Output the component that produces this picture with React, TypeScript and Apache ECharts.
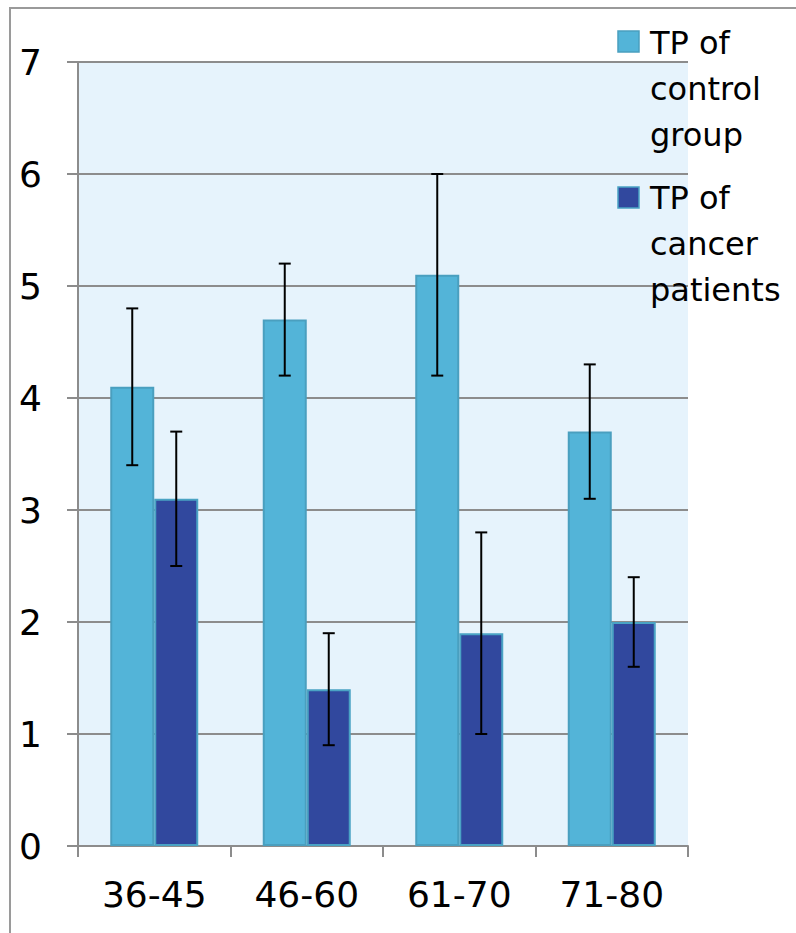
import React, { useEffect, useRef } from "react";
import * as echarts from "echarts";

const categories = ["36-45", "46-60", "61-70", "71-80"];
const controlValues = [4.1, 4.7, 5.1, 3.7];
const controlLow = [3.4, 4.2, 4.2, 3.1];
const controlHigh = [4.8, 5.2, 6.0, 4.3];
const cancerValues = [3.1, 1.4, 1.9, 2.0];
const cancerLow = [2.5, 0.9, 1.0, 1.6];
const cancerHigh = [3.7, 1.9, 2.8, 2.4];
const seriesNames = ["TP of\ncontrol\ngroup", "TP of\ncancer\npatients"];
const yTicks = { min: 0, max: 7, interval: 1 };

const FONT = "DejaVu Sans";
const CONTROL = "#53b4d8";
const CANCER = "#31489e";
const BAR_W = 44;

function errorSeries(low: number[], high: number[], offset: number) {
  return {
    type: "custom",
    silent: true,
    z: 10,
    data: categories.map((c, i) => [i, low[i], high[i]]),
    encode: { x: 0, y: [1, 2] },
    renderItem: (params: any, api: any) => {
      const lo = api.coord([api.value(0), api.value(1)]);
      const hi = api.coord([api.value(0), api.value(2)]);
      const x = lo[0] + offset;
      const cap = 6;
      const style = { stroke: "#000", lineWidth: 2 };
      return {
        type: "group",
        children: [
          { type: "line", shape: { x1: x, y1: lo[1], x2: x, y2: hi[1] }, style },
          { type: "line", shape: { x1: x - cap, y1: lo[1], x2: x + cap, y2: lo[1] }, style },
          { type: "line", shape: { x1: x - cap, y1: hi[1], x2: x + cap, y2: hi[1] }, style },
        ],
      };
    },
  };
}

export default function App() {
  const ref = useRef<HTMLDivElement>(null);
  useEffect(() => {
    const chart = echarts.init(ref.current!, null, { renderer: "svg" });
    const legendText = (name: string, y: number) => ({
      type: "text",
      left: 650,
      top: y,
      style: {
        text: name,
        font: `32px "${FONT}"`,
        fill: "#000",
        lineHeight: 46,
      },
      z: 20,
    });
    chart.setOption({
      animation: false,
      backgroundColor: "#ffffff",
      grid: {
        left: 78,
        top: 62,
        width: 610,
        height: 784,
        show: true,
        backgroundColor: "#e6f3fc",
        borderWidth: 0,
      },
      xAxis: {
        type: "category",
        data: categories,
        axisLine: { show: true, lineStyle: { color: "#8c8c8c", width: 2 } },
        axisTick: { show: true, length: 11, alignWithLabel: false, lineStyle: { color: "#8c8c8c", width: 2 } },
        axisLabel: { fontSize: 36, fontFamily: FONT, color: "#000", margin: 30 },
        splitLine: { show: false },
      },
      yAxis: {
        type: "value",
        min: yTicks.min,
        max: yTicks.max,
        interval: yTicks.interval,
        axisLine: { show: true, lineStyle: { color: "#8c8c8c", width: 2 } },
        axisTick: { show: true, length: 11, lineStyle: { color: "#8c8c8c", width: 2 } },
        axisLabel: { fontSize: 36, fontFamily: FONT, color: "#000", margin: 36 },
        splitLine: { show: true, lineStyle: { color: "#8c8c8c", width: 2 } },
      },
      series: [
        {
          name: seriesNames[0],
          type: "bar",
          data: controlValues,
          barWidth: BAR_W,
          barGap: "0%",
          itemStyle: { color: CONTROL, borderColor: "#4a9fbf", borderWidth: 2 },
        },
        {
          name: seriesNames[1],
          type: "bar",
          data: cancerValues,
          barWidth: BAR_W,
          barGap: "0%",
          itemStyle: { color: CANCER, borderColor: "#4aa3c4", borderWidth: 2 },
        },
        errorSeries(controlLow, controlHigh, -BAR_W / 2),
        errorSeries(cancerLow, cancerHigh, BAR_W / 2),
      ],
      graphic: [
        {
          type: "rect",
          shape: { x: 10, y: 8, width: 820, height: 960 },
          style: { fill: "none", stroke: "#9a9a9a", lineWidth: 2 },
          silent: true,
          z: 30,
        },
        { type: "rect", shape: { x: 618, y: 31, width: 21, height: 21 }, style: { fill: CONTROL, stroke: "#4a9fbf", lineWidth: 1.5 }, z: 20 },
        { type: "rect", shape: { x: 618, y: 187, width: 21, height: 21 }, style: { fill: CANCER, stroke: "#4aa3c4", lineWidth: 1.5 }, z: 20 },
        legendText(seriesNames[0], 20),
        legendText(seriesNames[1], 175),
      ],
    });
    return () => chart.dispose();
  }, []);
  return (
    <div
      ref={ref}
      style={{ position: "fixed", left: 0, top: 0, width: 796, height: 933 }}
    />
  );
}
